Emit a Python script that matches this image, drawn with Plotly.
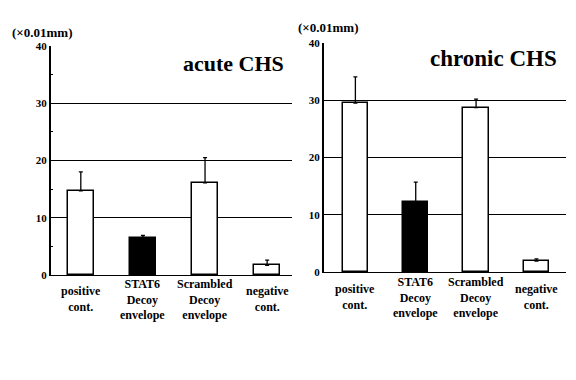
import plotly.graph_objects as go

categories = ["positive<br>cont.", "STAT6<br>Decoy<br>envelope", "Scrambled<br>Decoy<br>envelope", "negative<br>cont."]
acute_values = [14.7, 6.5, 16.1, 1.7]
acute_errors = [3.3, 0.4, 4.4, 0.9]
chronic_values = [29.5, 12.2, 28.7, 1.9]
chronic_errors = [4.6, 3.5, 1.5, 0.4]
bar_colors = ["white", "black", "white", "white"]
y_ticks = [0, 10, 20, 30, 40]

FONT = "Liberation Serif"
W, H = 576, 380
OFF = 8  # page body margin
xpos = list(range(len(categories)))


def px(x):
    return (x - OFF) / W


def py(y):
    return 1 - (y - OFF) / H


fig = go.Figure()


def add_panel(vals, errs, xa, ya):
    fig.add_trace(go.Bar(
        x=xpos, y=vals, width=0.42,
        marker=dict(color=bar_colors, line=dict(color="black", width=1.5)),
        error_y=dict(type="data", symmetric=False, array=errs,
                     arrayminus=[0] * len(errs), color="black", thickness=1.3, width=2),
        xaxis=xa, yaxis=ya, showlegend=False,
    ))


add_panel(acute_values, acute_errors, "x", "y")
add_panel(chronic_values, chronic_errors, "x2", "y2")

ydom_l = [py(275), py(46)]
ydom_r = [py(272), py(43)]
axis_common = dict(showgrid=False, zeroline=False, showticklabels=False, ticks="")
yaxis_common = dict(range=[0, 40], tickvals=y_ticks, ticktext=["<b>%d</b>" % v for v in y_ticks],
                    showgrid=True, gridcolor="black", gridwidth=1.2, zeroline=False,
                    showline=True, linecolor="black", linewidth=2,
                    ticks="inside", ticklen=3, tickcolor="black", automargin=False,
                    tickfont=dict(family=FONT, size=11, color="black"))
fig.update_layout(
    width=W, height=H,
    margin=dict(l=0, r=0, t=0, b=0),
    paper_bgcolor="white", plot_bgcolor="white",
    font=dict(family=FONT, color="black"),
    bargap=0,
    xaxis=dict(domain=[px(51), px(292)], range=[-0.48, 3.40], anchor="y",
               showline=True, linecolor="black", linewidth=1, automargin=False, **axis_common),
    xaxis2=dict(domain=[px(324), px(566)], range=[-0.52, 3.49], anchor="y2",
                showline=True, linecolor="black", linewidth=1, automargin=False, **axis_common),
    yaxis=dict(domain=ydom_l, anchor="x",
               minor=dict(dtick=5, ticks="inside", ticklen=2, tickcolor="black", showgrid=False),
               **yaxis_common),
    yaxis2=dict(domain=ydom_r, anchor="x2", **yaxis_common),
)

annotations = []
for xr, yc in [("x", 299), ("x2", 297)]:
    for i, c in enumerate(categories):
        annotations.append(dict(x=i, xref=xr, y=py(yc), yref="paper", text="<b>" + c + "</b>",
                                showarrow=False, yanchor="middle", xanchor="center",
                                font=dict(family=FONT, size=12, color="black")))
annotations += [
    dict(x=px(10), y=py(33), xref="paper", yref="paper", text="<b>(×0.01mm)</b>",
         showarrow=False, xanchor="left", yanchor="middle", font=dict(family=FONT, size=13)),
    dict(x=px(296), y=py(28), xref="paper", yref="paper", text="<b>(×0.01mm)</b>",
         showarrow=False, xanchor="left", yanchor="middle", font=dict(family=FONT, size=13)),
    dict(x=px(286), y=py(63), xref="paper", yref="paper", text="<b>acute CHS</b>",
         showarrow=False, xanchor="right", yanchor="middle", font=dict(family=FONT, size=22)),
    dict(x=px(559), y=py(59), xref="paper", yref="paper", text="<b>chronic CHS</b>",
         showarrow=False, xanchor="right", yanchor="middle", font=dict(family=FONT, size=23)),
]
fig.update_layout(annotations=annotations)

fig.write_html("out.html")
